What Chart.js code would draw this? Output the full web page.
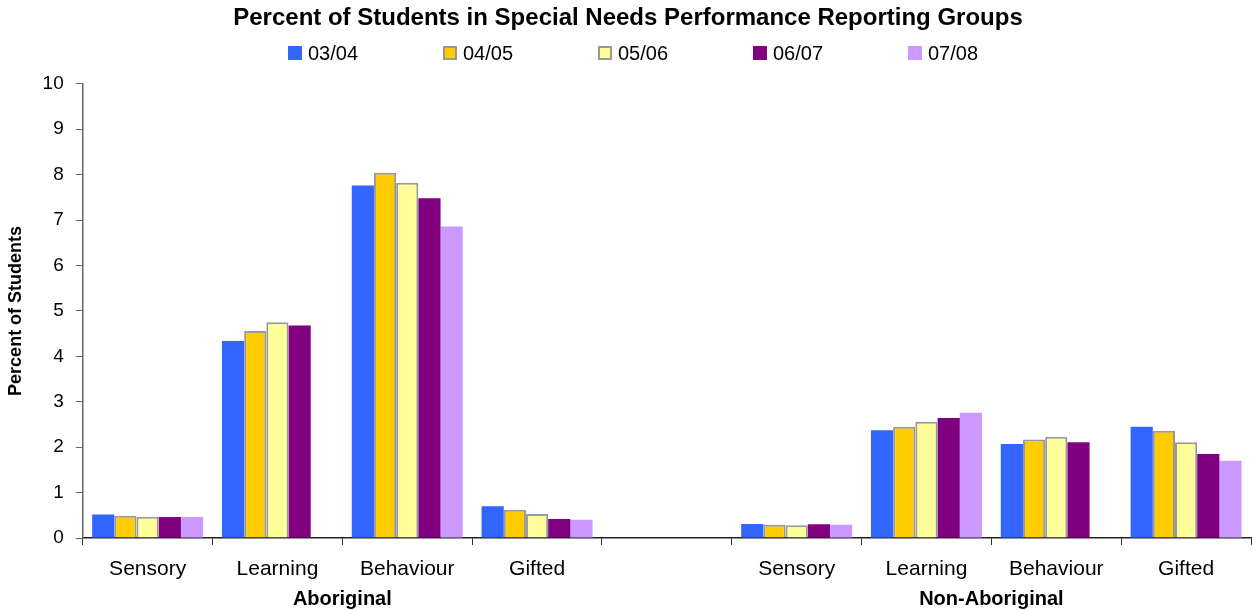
<!DOCTYPE html>
<html>
<head>
<meta charset="utf-8">
<script src="https://cdn.jsdelivr.net/npm/chart.js@4/dist/chart.umd.min.js"></script>
<style>
  html, body { margin: 0; padding: 0; background: #fff; }
  #wrap { width: 1252px; height: 611px; }
</style>
</head>
<body>
<div id="wrap"><canvas id="chart"></canvas></div>
<script>
var categories = ["Sensory", "Learning", "Behaviour", "Gifted", "", "Sensory", "Learning", "Behaviour", "Gifted"];
var groups = ["Aboriginal", "Non-Aboriginal"];
var years = ["03/04", "04/05", "05/06", "06/07", "07/08"];

var y0304 = [0.52, 4.34, 7.76, 0.70, null, 0.31, 2.37, 2.07, 2.45];
var y0405 = [0.49, 4.56, 8.04, 0.62, null, 0.29, 2.45, 2.17, 2.36];
var y0506 = [0.47, 4.75, 7.82, 0.53, null, 0.28, 2.56, 2.23, 2.11];
var y0607 = [0.46, 4.68, 7.48, 0.42, null, 0.30, 2.64, 2.11, 1.85];
var y0708 = [0.46, null, 6.86, 0.40, null, 0.29, 2.76, null, 1.70];

var yTicks = [0, 1, 2, 3, 4, 5, 6, 7, 8, 9, 10];

var FONT = '"Liberation Sans", Arial, sans-serif';

function makeSet(label, data, fill, border) {
    return {
        label: label,
        data: data,
        backgroundColor: fill,
        borderColor: border || fill,
        borderWidth: border ? 2 : 0,
        borderSkipped: "bottom",
        categoryPercentage: 0.855,
        barPercentage: 1.0
    };
}

// legend spread out like the original (built-in legend can't space items this wide)
var spacedLegend = {
    id: "spacedLegend",
    afterDraw: function (chart) {
        var ctx = chart.ctx;
        var ds = chart.data.datasets;
        var step = 155, box = 14, gap = 6, y = 53;
        ctx.save();
        ctx.font = "20px " + FONT;
        ctx.textBaseline = "middle";
        var lastW = box + gap + ctx.measureText(ds[ds.length - 1].label).width;
        var x = chart.width / 2 + 7 - (step * (ds.length - 1) + lastW) / 2;
        for (var i = 0; i < ds.length; i++) {
            ctx.fillStyle = ds[i].backgroundColor;
            ctx.fillRect(x, y - box / 2, box, box);
            if (ds[i].borderWidth) {
                ctx.strokeStyle = ds[i].borderColor;
                ctx.lineWidth = 2;
                ctx.strokeRect(x + 1, y - box / 2 + 1, box - 2, box - 2);
            }
            ctx.fillStyle = "#000";
            ctx.fillText(ds[i].label, x + box + gap, y + 1);
            x += step;
        }
        ctx.restore();
    }
};

new Chart(document.getElementById("chart"), {
    type: "bar",
    data: {
        labels: categories,
        datasets: [
            makeSet(years[0], y0304, "#3366FF"),
            makeSet(years[1], y0405, "#FFCC00", "#999999"),
            makeSet(years[2], y0506, "#FFFF99", "#999999"),
            makeSet(years[3], y0607, "#800080"),
            makeSet(years[4], y0708, "#CC99FF")
        ]
    },
    options: {
        responsive: true,
        maintainAspectRatio: false,
        animation: false,
        layout: { padding: { left: 5, right: 1, top: 0, bottom: 0 } },
        plugins: {
            legend: { display: false },
            tooltip: { enabled: false },
            title: {
                display: true,
                text: "Percent of Students in Special Needs Performance Reporting Groups",
                color: "#000",
                font: { family: FONT, size: 24, weight: "bold" },
                padding: { top: 4, bottom: 51 }
            }
        },
        scales: {
            x: {
                type: "category",
                offset: true,
                afterFit: function (axis) { axis.height = 45; },
                grid: { display: true, offset: true, drawOnChartArea: false, drawTicks: true, tickLength: 7, color: "#333" },
                border: { display: true, color: "#222", width: 1.5 },
                ticks: { color: "#000", font: { family: FONT, size: 21 }, padding: 12, maxRotation: 0, autoSkip: false }
            },
            groups: {
                type: "linear",
                position: "bottom",
                offset: false,
                min: -0.5,
                max: categories.length - 0.5,
                afterFit: function (axis) { axis.height = 28; },
                grid: { display: false, drawTicks: false },
                border: { display: false },
                afterBuildTicks: function (axis) {
                    axis.ticks = [{ value: 1.5 }, { value: 6.5 }];
                },
                ticks: {
                    color: "#000",
                    font: { family: FONT, size: 20, weight: "bold" },
                    padding: 4,
                    autoSkip: false,
                    maxRotation: 0,
                    callback: function (v) { return v < 4 ? groups[0] : groups[1]; }
                }
            },
            y: {
                min: 0,
                max: 10,
                afterBuildTicks: function (axis) {
                    axis.ticks = yTicks.map(function (v) { return { value: v }; });
                },
                grid: { display: true, drawOnChartArea: false, drawTicks: true, tickLength: 7, color: "#666" },
                border: { display: true, color: "#666", width: 1.5 },
                ticks: { color: "#000", font: { family: FONT, size: 19 }, padding: 12 },
                title: {
                    display: true,
                    text: "Percent of Students",
                    color: "#000",
                    font: { family: FONT, size: 18, weight: "bold" },
                    padding: { top: 0, bottom: 4 }
                }
            }
        }
    },
    plugins: [spacedLegend]
});
</script>
</body>
</html>
